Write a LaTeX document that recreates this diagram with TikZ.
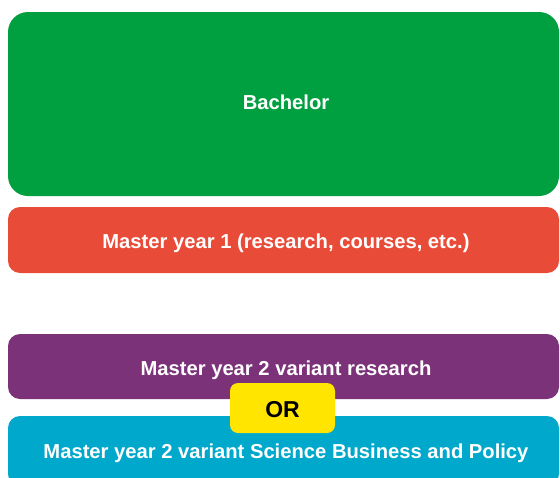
\documentclass[tikz,border=0pt]{standalone}
\usepackage{fontspec}
\setmainfont{Liberation Sans}
\definecolor{cgreen}{HTML}{00A040}
\definecolor{cred}{HTML}{E84C38}
\definecolor{cpurple}{HTML}{7B3279}
\definecolor{ccyan}{HTML}{00A8CC}
\definecolor{cyellow}{HTML}{FFE500}
\begin{document}
\begin{tikzpicture}[x=1pt,y=-1pt,
  band/.style={rectangle, minimum width=551pt, inner sep=0pt, text=white,
    text depth=0pt, font=\fontsize{20.2}{24}\selectfont\bfseries},
  orbox/.style={rectangle, fill=cyellow, rounded corners=8pt, minimum width=105pt,
    minimum height=50pt, inner sep=0pt, text depth=0pt, text height=18.5pt,
    font=\fontsize{23}{27}\selectfont\bfseries}]
\useasboundingbox[fill=white] (0,0) rectangle (560,477);
\clip (0,0) rectangle (560,477);
\node[band, fill=cgreen, rounded corners=20pt, minimum height=184pt, text height=10.5pt] (bach) at (283.5,104) {\hspace*{5pt}Bachelor};
\node[band, fill=cred, rounded corners=12pt, minimum height=66pt, text height=16pt] (m1) at (283.5,240) {\hspace*{5pt}Master year 1 (research, courses, etc.)};
\node[band, fill=cpurple, rounded corners=12pt, minimum height=65pt, text height=17pt] (m2r) at (283.5,366.5) {\hspace*{5pt}Master year 2 variant research};
\node[band, fill=ccyan, rounded corners=12pt, minimum height=70pt, text height=14.5pt] (m2s) at (283.5,451) {\hspace*{5pt}Master year 2 variant Science Business and Policy};
\node[orbox] (or) at (282.5,408) {OR};
\end{tikzpicture}
\end{document}
